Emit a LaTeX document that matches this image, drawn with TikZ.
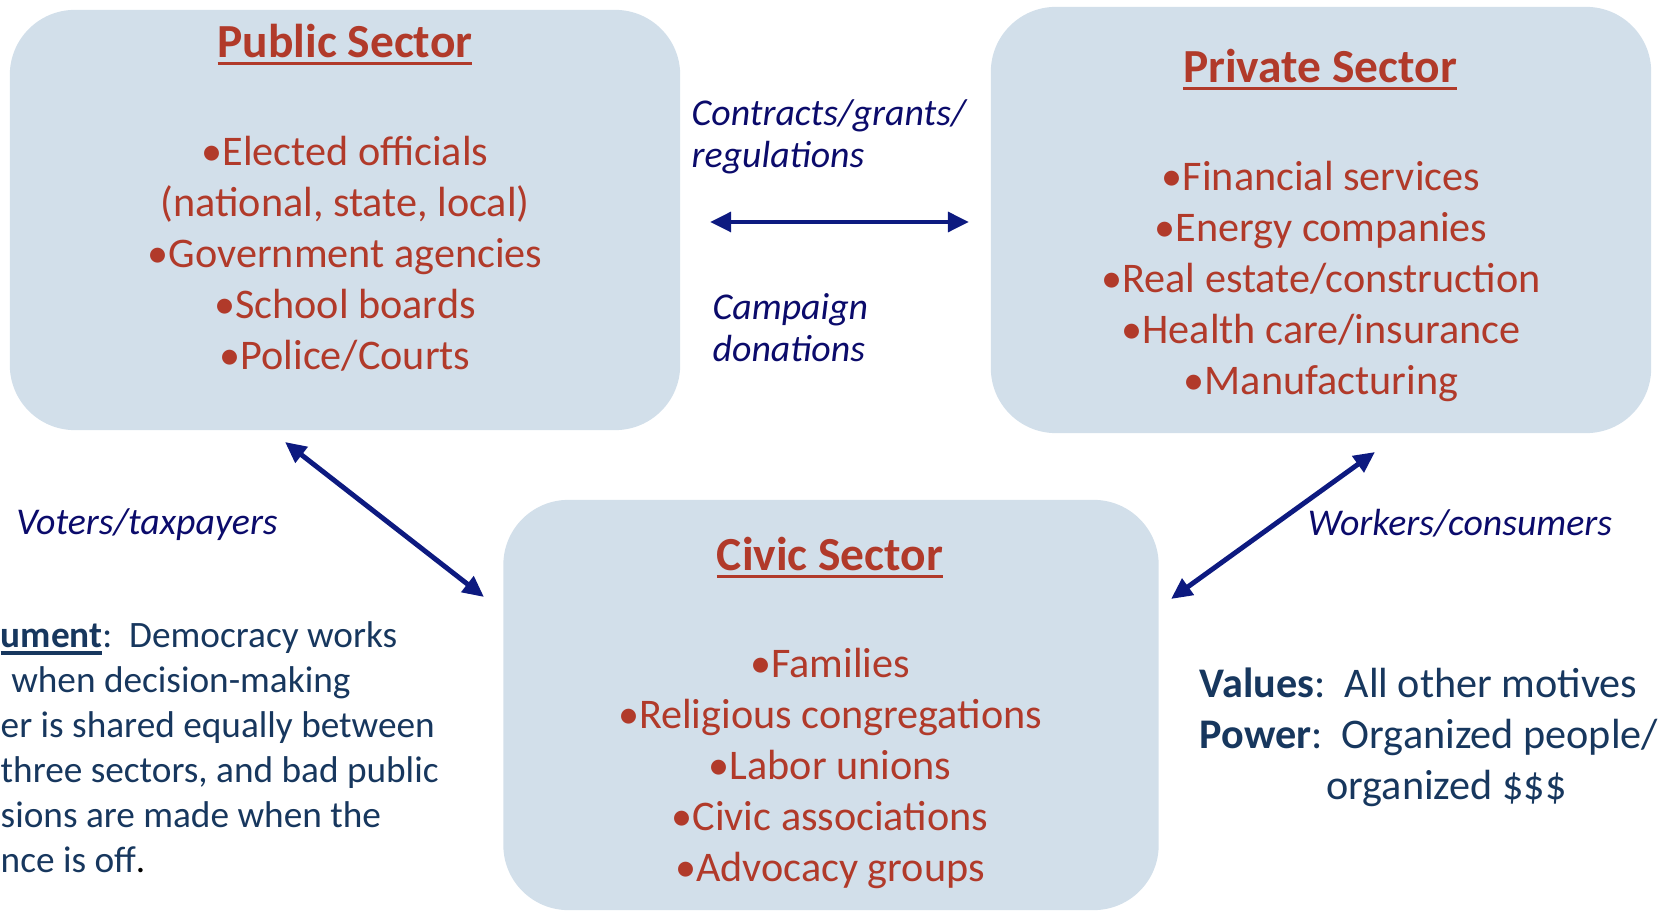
\documentclass[tikz,border=0pt]{standalone}
\usepackage{fontspec}
\setmainfont{Carlito}
\usepackage{tikz}
\usetikzlibrary{positioning,arrows.meta}

\definecolor{boxblue}{HTML}{D2DFEA}
\definecolor{sectred}{HTML}{B13A2A}
\definecolor{arrnavy}{HTML}{0D1A80}
\definecolor{labnavy}{HTML}{0B0B6B}
\definecolor{textblue}{HTML}{17375E}

% thicker underline, as in the slide
\newcommand\thickul[1]{\setbox0\hbox{#1}\rlap{\vrule height -1.2pt depth 2.1pt width \wd0}\box0}

\begin{document}
\begin{tikzpicture}[
    x=0.01cm, y=-0.01cm,
    sector/.style={
        draw = none,
        fill = boxblue,
        rounded corners = 0.65cm,
        inner sep = 0pt
    },
    title/.style={
        text = sectred,
        inner sep = 0pt,
        font = \fontsize{13.5}{16}\selectfont\bfseries
    },
    items/.style={
        text = sectred,
        align = center,
        inner sep = 0pt,
        font = \fontsize{12}{14.5}\selectfont
    },
    flow/.style={
        text = labnavy,
        align = left,
        inner sep = 0pt,
        font = \fontsize{10.75}{11.95}\selectfont\itshape
    },
    note/.style={
        text = textblue,
        align = left,
        inner sep = 0pt
    },
    link/.style={
        <->,
        draw = arrnavy,
        line width = 1.4pt
    },
    >={Triangle[length=6pt,width=5.5pt]}
]
\useasboundingbox (0,0) rectangle (1667,913);

% the three sectors
\node[sector, minimum width=6.7cm, minimum height=4.2cm] (pub) at (345,220) {};
\node[sector, minimum width=6.6cm, minimum height=4.26cm] (priv) at (1321,220) {};
\node[sector, minimum width=6.55cm, minimum height=4.1cm] (civ) at (831,705) {};

\node[title] (pubt) at (345,45) {\thickul{Public Sector}};
\node[title] (privt) at (1320,70) {\thickul{Private Sector}};
\node[title] (civt) at (830,558) {\thickul{Civic Sector}};

\node[items] (publist) at (345,254) {\textbullet Elected officials\\
    (national, state, local)\\
    \textbullet Government agencies\\
    \textbullet School boards\\
    \textbullet Police/Courts};
\node[items] (privlist) at (1321,281) {\textbullet Financial services\\
    \textbullet Energy companies\\
    \textbullet Real estate/construction\\
    \textbullet Health care/insurance\\
    \textbullet Manufacturing};
\node[items] (civlist) at (830,768) {\textbullet Families\\
    \textbullet Religious congregations\\
    \textbullet Labor unions\\
    \textbullet Civic associations\\
    \textbullet Advocacy groups};

% flows between sectors
\coordinate (pp1) at (710,222);
\coordinate (pp2) at (969,222);
\coordinate (pc1) at (285,442);
\coordinate (pc2) at (484,597);
\coordinate (vc1) at (1375,452);
\coordinate (vc2) at (1171,599);
\foreach \a/\b in {pp1/pp2, pc1/pc2, vc1/vc2}
    \draw[link] (\a) -- (\b);

\node[flow, anchor=west] (contr) at (691,137) {Contracts/grants/\\ regulations};
\node[flow, anchor=west] (camp) at (712,328) {Campaign\\ donations};
\node[flow] (voters) at (147,525) {Voters/taxpayers};
\node[flow] (workers) at (1460,523) {Workers/consumers};

% side notes
\node[note, anchor=west, font=\fontsize{10.6}{12.8}\selectfont] (argue) at (0,747)
    {\thickul{\textbf{ument}}:\ \ Democracy works\\
    \hspace*{3pt}when decision-making\\
    er is shared equally between\\
    three sectors, and bad public\\
    sions are made when the\\
    nce is off{\color{black}.}};
\node[note, anchor=west, font=\fontsize{12}{14.5}\selectfont] (vals) at (1199,737)
    {\textbf{Values}:\ \ All other motives\\
    \textbf{Power}:\ \ Organized people/\\
    \hspace*{36pt}organized \$\$\$};

\end{tikzpicture}
\end{document}
